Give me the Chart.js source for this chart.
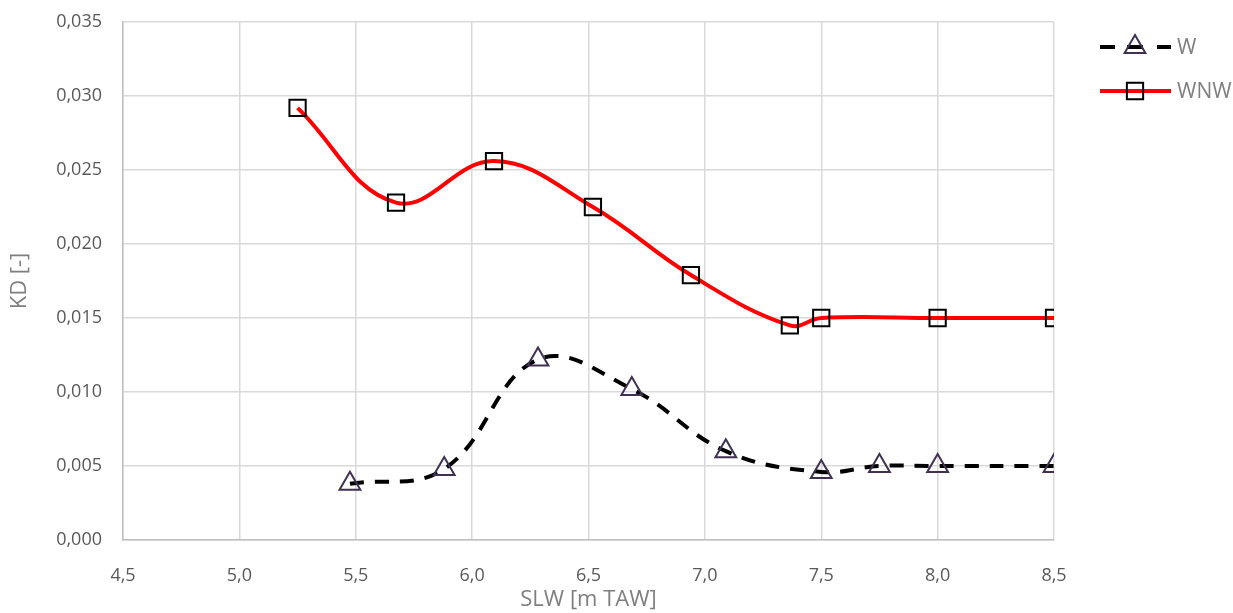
<!DOCTYPE html>
<html>
<head>
<meta charset="utf-8">
<script src="https://cdn.jsdelivr.net/npm/chart.js@4.4.1/dist/chart.umd.min.js"></script>
<style>
  html, body { margin: 0; padding: 0; background: #ffffff; }
  #wrap { width: 1233px; height: 613px; position: relative; }
</style>
</head>
<body>
<div id="wrap"><canvas id="c"></canvas></div>
<script>
// SLW water level [m TAW] against damage coefficient KD [-]
const slwW   = [5.475, 5.88, 6.283, 6.686, 7.09, 7.5, 7.75, 8.0, 8.5];
const kdW    = [0.0038, 0.0048, 0.0122, 0.0102, 0.0060, 0.0046, 0.0050, 0.0050, 0.0050];
const slwWNW = [5.25, 5.673, 6.094, 6.519, 6.94, 7.365, 7.5, 8.0, 8.5];
const kdWNW  = [0.0292, 0.0228, 0.0256, 0.0225, 0.0179, 0.0145, 0.0150, 0.0150, 0.0150];
const seriesNames = ['W', 'WNW'];
const xTitle = 'SLW [m TAW]';
const yTitle = 'KD [-]';

const toXY = (xs, ys) => xs.map((x, i) => ({ x: x, y: ys[i] }));
const comma = (v, d) => v.toFixed(d).replace('.', ',');

const FONT = "'Open Sans', 'Noto Sans', sans-serif";
const GRID = '#d9d9d9';

// Legend on the right: line sample with a hollow marker in its middle, then the name
const sideLegend = {
  id: 'sideLegend',
  afterDraw(chart) {
    const ctx = chart.ctx;
    const rows = [47, 91];
    const cx = 1135;
    chart.data.datasets.forEach((ds, i) => {
      const y = rows[i];
      ctx.save();
      ctx.strokeStyle = ds.borderColor;
      ctx.lineWidth = ds.borderWidth;
      ctx.lineCap = 'butt';
      ctx.beginPath();
      if (ds.borderDash && ds.borderDash.length) {
        ctx.moveTo(1100, y); ctx.lineTo(1115, y);
        ctx.moveTo(1127, y); ctx.lineTo(1143, y);
        ctx.moveTo(1157, y); ctx.lineTo(1171, y);
      } else {
        ctx.moveTo(1100, y); ctx.lineTo(1171, y);
      }
      ctx.stroke();
      ctx.strokeStyle = ds.pointBorderColor;
      ctx.lineWidth = ds.pointBorderWidth;
      ctx.beginPath();
      const r = ds.pointRadius;
      if (ds.pointStyle === 'rect') {
        const s = Math.SQRT1_2 * r;
        ctx.rect(cx - s, y - s, 2 * s, 2 * s);
      } else {
        ctx.moveTo(cx, y - r);
        ctx.lineTo(cx + Math.sin(2 * Math.PI / 3) * r, y - Math.cos(2 * Math.PI / 3) * r);
        ctx.lineTo(cx + Math.sin(4 * Math.PI / 3) * r, y - Math.cos(4 * Math.PI / 3) * r);
        ctx.closePath();
      }
      ctx.stroke();
      ctx.fillStyle = '#7f7f7f';
      ctx.font = '21px ' + FONT;
      ctx.textAlign = 'left';
      ctx.textBaseline = 'middle';
      ctx.fillText(ds.label, 1177, y + 1);
      ctx.restore();
    });
  }
};

new Chart(document.getElementById('c'), {
  type: 'line',
  data: {
    datasets: [
      {
        label: seriesNames[0],
        data: toXY(slwW, kdW),
        borderColor: '#000000',
        borderWidth: 4,
        borderDash: [14, 11],
        tension: 0.4,
        pointStyle: 'triangle',
        pointRadius: 12,
        pointBorderWidth: 2,
        pointBorderColor: '#403152',
        pointBackgroundColor: 'rgba(255,255,255,0)',
        pointHoverRadius: 12
      },
      {
        label: seriesNames[1],
        data: toXY(slwWNW, kdWNW),
        borderColor: '#ff0000',
        borderWidth: 4,
        tension: 0.4,
        pointStyle: 'rect',
        pointRadius: 11.5,
        pointBorderWidth: 2,
        pointBorderColor: '#000000',
        pointBackgroundColor: 'rgba(255,255,255,0)',
        pointHoverRadius: 11.5
      }
    ]
  },
  options: {
    responsive: true,
    maintainAspectRatio: false,
    animation: false,
    layout: { padding: { top: 22, right: 179, bottom: 0, left: 0 } },
    plugins: { legend: { display: false }, tooltip: { enabled: false } },
    scales: {
      x: {
        type: 'linear',
        min: 4.5, max: 8.5,
        afterFit(s) { s.height = 73; s.paddingLeft = 0; s.paddingRight = 0; },
        ticks: {
          stepSize: 0.5,
          padding: 25,
          color: '#595959',
          font: { family: FONT, size: 18 },
          callback: v => comma(v, 1)
        },
        grid: { color: GRID, lineWidth: 1.5, drawTicks: false },
        border: { color: '#bfbfbf', width: 1.5 },
        title: {
          display: true, text: xTitle, color: '#7f7f7f',
          font: { family: FONT, size: 22 }, padding: { top: 0, bottom: 0 }
        }
      },
      y: {
        min: 0, max: 0.035,
        afterFit(s) { s.width = 123; s.paddingTop = 0; s.paddingBottom = 0; },
        ticks: {
          stepSize: 0.005,
          padding: 21,
          color: '#595959',
          font: { family: FONT, size: 18 },
          callback: v => comma(v, 3)
        },
        grid: { color: GRID, lineWidth: 1.5, drawTicks: false },
        border: { color: '#bfbfbf', width: 1.5 },
        title: {
          display: true, text: yTitle, color: '#7f7f7f',
          font: { family: FONT, size: 22 }, padding: { top: 7, bottom: 0 }
        }
      }
    }
  },
  plugins: [sideLegend]
});
</script>
</body>
</html>
